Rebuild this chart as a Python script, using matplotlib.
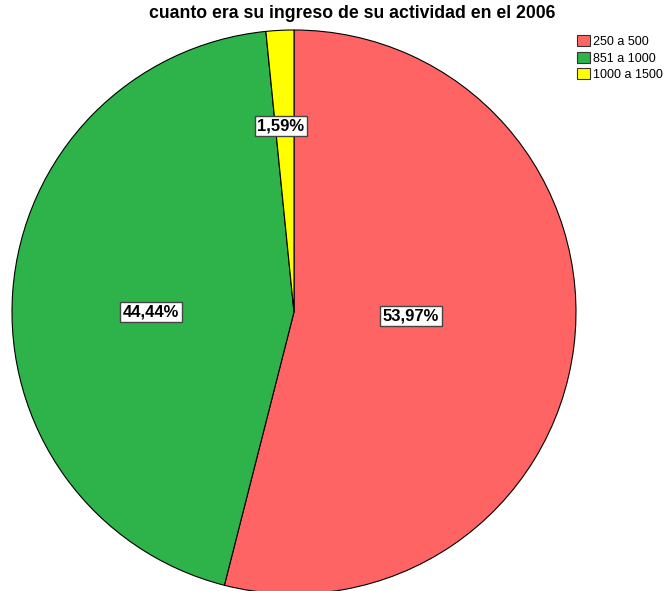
import numpy as np
import matplotlib.pyplot as plt
from matplotlib.patches import Patch

plt.rcParams["font.family"] = ["Liberation Sans", "DejaVu Sans"]

categories = ["250 a 500", "851 a 1000", "1000 a 1500"]
values = [53.97, 44.44, 1.59]
colors = ["#FF6464", "#2DB34A", "#FFFF00"]
# where each percentage box sits (angle in degrees, fraction of radius)
label_angle = [-2, 180, 94]
label_radius = [0.415, 0.507, 0.66]

fig = plt.figure(figsize=(6.69, 5.91), dpi=100)
W, H = 669, 591
cx, cy, r = 294, 312, 282
ax = fig.add_axes([(cx - r) / W, (H - cy - r) / H, 2 * r / W, 2 * r / H])

wedges, _ = ax.pie(values, colors=colors, startangle=90, counterclock=False,
                   radius=1.0, wedgeprops=dict(edgecolor="black", linewidth=0.8))
ax.set_xlim(-1, 1)
ax.set_ylim(-1, 1)
ax.set_aspect("equal")
ax.axis("off")

for v, a, lr in zip(values, label_angle, label_radius):
    ang = np.deg2rad(a)
    ax.text(lr * np.cos(ang), lr * np.sin(ang), f"{v:.2f}%".replace(".", ","),
            ha="center", va="center", fontsize=12, fontweight="bold",
            bbox=dict(facecolor="white", edgecolor="#444444", boxstyle="square,pad=0.15", linewidth=1))

fig.text(352 / W, 1 - 14 / H, "cuanto era su ingreso de su actividad en el 2006",
         ha="center", va="center", fontsize=12.7, fontweight="bold")

handles = [Patch(facecolor=c, edgecolor="#333333", linewidth=0.8) for c in colors]
fig.legend(handles, categories, loc="upper left", bbox_to_anchor=(577 / W, 1 - 35 / H),
           frameon=False, fontsize=9, handlelength=1.0, handleheight=1.0,
           handletextpad=0.25, labelspacing=0.3, borderpad=0, borderaxespad=0)

fig.savefig("out.png", dpi=100)
